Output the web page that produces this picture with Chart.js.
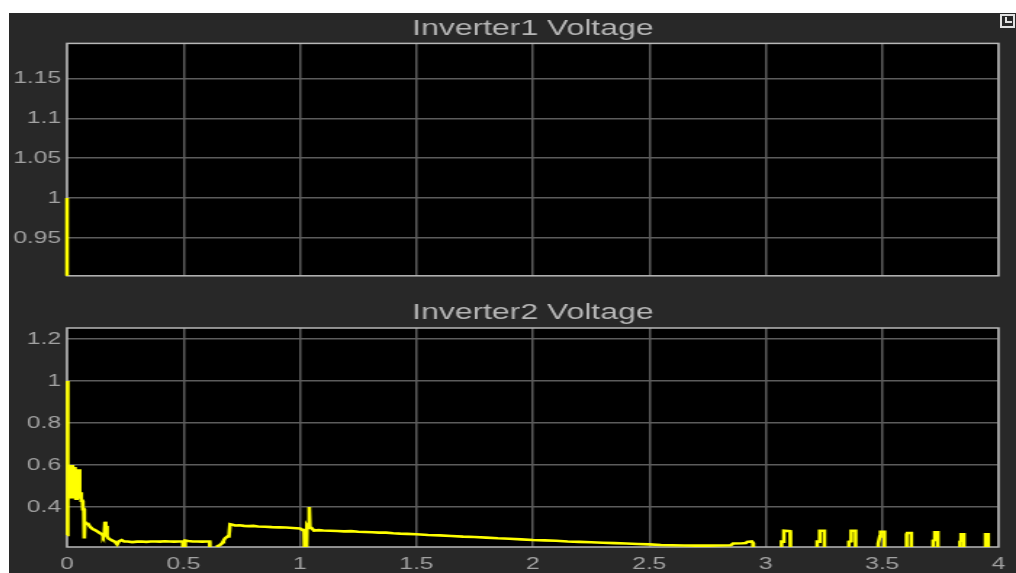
<!DOCTYPE html>
<html>
<head>
<meta charset="utf-8">
<script src="https://cdn.jsdelivr.net/npm/chart.js@4.4.1/dist/chart.umd.min.js"></script>
<style>
  body { margin: 0; background: #fff; }
  #wrap { position: absolute; left: 9px; top: 13px; width: 1007px; height: 560px; background: #282828; }
  canvas { position: absolute; left: 0; }
  #icon { position: absolute; left: 991px; top: 1px; width: 11px; height: 10px; border: 2px solid #e2e2e2; }
  #icon i { position: absolute; right: 1px; top: 1px; width: 5px; height: 4px; border-left: 2px solid #e2e2e2; border-bottom: 2px solid #e2e2e2; }
</style>
</head>
<body>
<div id="wrap">
  <canvas id="c1" width="694" height="277" style="top:0;width:1007px;height:277px"></canvas>
  <canvas id="c2" width="694" height="283" style="top:277px;width:1007px;height:283px"></canvas>
  <div id="icon"><i></i></div>
</div>
<script>
// tick values
const xTicks = [0, 0.5, 1, 1.5, 2, 2.5, 3, 3.5, 4];
const y1Ticks = [0.95, 1, 1.05, 1.1, 1.15];
const y2Ticks = [0.4, 0.6, 0.8, 1, 1.2];

// Inverter1: only the step at t=0 is inside the visible range
const t1 = [0, 0, 4];
const v1 = [1.0, 0.8, 0.8];

// Inverter2 voltage trace (time in s)
const t2 = [
  0, 0, 0.003, 0.006, 0.009, 0.012, 0.014, 0.018, 0.021, 0.024, 0.027, 0.031, 0.034, 0.038, 0.042, 0.046,
  0.050, 0.054, 0.058, 0.061, 0.066, 0.068, 0.072, 0.074, 0.076, 0.082, 0.09, 0.096, 0.104, 0.11, 0.12,
  0.128, 0.135, 0.142, 0.150, 0.155, 0.160, 0.163, 0.166, 0.169, 0.172, 0.178, 0.186, 0.195, 0.205,
  0.215, 0.222, 0.235, 0.245, 0.26, 0.28, 0.30, 0.32, 0.34, 0.36, 0.38, 0.40, 0.42, 0.44, 0.46, 0.48,
  0.497, 0.498, 0.505, 0.507, 0.52, 0.54, 0.56, 0.58, 0.60, 0.612, 0.613, 0.643, 0.646, 0.655, 0.664,
  0.668, 0.672, 0.678, 0.69, 0.695, 0.70, 0.71, 0.72, 0.74, 0.76, 0.78, 0.80, 0.82, 0.85, 0.88, 0.91,
  0.94, 0.97, 1.00, 1.012, 1.018, 1.02, 1.028, 1.03, 1.036, 1.04, 1.043, 1.05, 1.06, 1.08, 1.10, 1.13,
  1.16, 1.19, 1.22, 1.25, 1.28, 1.31, 1.34, 1.37, 1.40, 1.43, 1.46, 1.50, 1.55, 1.60, 1.65, 1.70, 1.75,
  1.80, 1.85, 1.90, 1.95, 2.00, 2.05, 2.10, 2.15, 2.20, 2.25, 2.30, 2.35, 2.40, 2.45, 2.50, 2.55, 2.60,
  2.65, 2.70, 2.75, 2.80, 2.85, 2.86, 2.90, 2.915, 2.92, 2.94, 2.945, 2.947,
  3.068, 3.068, 3.078, 3.078, 3.105, 3.106,
  3.221, 3.221, 3.232, 3.232, 3.252, 3.252,
  3.357, 3.357, 3.367, 3.367, 3.386, 3.386,
  3.483, 3.483, 3.49, 3.493, 3.51, 3.51,
  3.605, 3.605, 3.608, 3.625, 3.625,
  3.719, 3.719, 3.726, 3.726, 3.739, 3.739,
  3.834, 3.834, 3.839, 3.839, 3.851, 3.851,
  3.944, 3.944, 3.955, 3.955, 4.0
];
const v2 = [
  0.267, 1.0, 0.47, 0.43, 0.49, 0.44, 0.60, 0.45, 0.60, 0.44, 0.59, 0.45, 0.59, 0.44, 0.58, 0.44,
  0.58, 0.44, 0.47, 0.43, 0.43, 0.39, 0.39, 0.25, 0.33, 0.32, 0.32, 0.31, 0.30, 0.295, 0.29,
  0.285, 0.28, 0.275, 0.27, 0.26, 0.27, 0.33, 0.29, 0.31, 0.26, 0.25, 0.245, 0.24, 0.235,
  0.222, 0.236, 0.242, 0.236, 0.236, 0.233, 0.235, 0.236, 0.234, 0.236, 0.236, 0.235, 0.237, 0.236, 0.235, 0.236,
  0.236, 0.19, 0.19, 0.24, 0.238, 0.236, 0.236, 0.235, 0.236, 0.236, 0.18, 0.18, 0.213, 0.218, 0.225,
  0.232, 0.24, 0.25, 0.26, 0.26, 0.318, 0.316, 0.312, 0.313, 0.31, 0.309, 0.31, 0.307, 0.306, 0.304, 0.303,
  0.302, 0.300, 0.298, 0.29, 0.29, 0.18, 0.18, 0.31, 0.30, 0.40, 0.30, 0.30, 0.288, 0.29, 0.288, 0.287,
  0.286, 0.284, 0.285, 0.282, 0.281, 0.28, 0.278, 0.278, 0.275, 0.273, 0.272, 0.27, 0.267, 0.265, 0.262, 0.259, 0.257,
  0.254, 0.251, 0.249, 0.246, 0.243, 0.241, 0.239, 0.236, 0.234, 0.232, 0.230, 0.228, 0.226, 0.224, 0.222, 0.219, 0.218,
  0.217, 0.216, 0.216, 0.217, 0.218, 0.226, 0.227, 0.228, 0.234, 0.236, 0.23, 0.18,
  0.18, 0.235, 0.235, 0.287, 0.285, 0.18,
  0.18, 0.235, 0.235, 0.287, 0.287, 0.18,
  0.18, 0.235, 0.237, 0.287, 0.287, 0.18,
  0.18, 0.226, 0.26, 0.282, 0.282, 0.18,
  0.18, 0.27, 0.276, 0.276, 0.18,
  0.18, 0.24, 0.242, 0.28, 0.28, 0.18,
  0.18, 0.235, 0.24, 0.27, 0.27, 0.18,
  0.18, 0.27, 0.27, 0.18, 0.18
];

const GRID = '#5c5c5c';
const BOX = '#b8b8b8';
const TICK = '#a2a2a2';
const TITLE = '#b6b6b6';
const FONT = '"Liberation Sans", Arial, sans-serif';

// black plot area + full axes box, like the scope window
const scopeBox = {
  id: 'scopeBox',
  beforeDraw(chart) {
    const a = chart.chartArea;
    chart.ctx.save();
    chart.ctx.fillStyle = '#000';
    chart.ctx.fillRect(a.left, a.top, a.right - a.left, a.bottom - a.top);
    chart.ctx.restore();
  },
  beforeDatasetsDraw(chart) {
    const a = chart.chartArea;
    const ctx = chart.ctx;
    ctx.save();
    ctx.strokeStyle = BOX;
    ctx.lineWidth = 1.5;
    ctx.strokeRect(a.left, a.top, a.right - a.left, a.bottom - a.top);
    ctx.restore();
  }
};

function makeScope(id, title, ts, vs, yTicks, yMin, yMax, showX, titlePad, padBottom, xHeight) {
  const pts = ts.map((t, i) => ({ x: t, y: vs[i] }));
  return new Chart(document.getElementById(id), {
    type: 'line',
    data: {
      datasets: [{
        data: pts,
        borderColor: '#ffff00',
        borderWidth: 2.6,
        pointRadius: 0,
        tension: 0,
        clip: { left: 3, right: 0, top: 0, bottom: 0 }
      }]
    },
    options: {
      responsive: false,
      animation: false,
      layout: { padding: { left: 0, right: 12, top: 0, bottom: padBottom } },
      plugins: {
        legend: { display: false },
        tooltip: { enabled: false },
        title: {
          display: true,
          fullSize: false,
          text: title,
          color: TITLE,
          font: { family: FONT, size: 22, weight: 'normal' },
          padding: titlePad
        }
      },
      scales: {
        x: {
          type: 'linear',
          min: 0,
          max: 4,
          afterBuildTicks: s => { s.ticks = xTicks.map(v => ({ value: v })); },
          afterFit: s => { s.height = xHeight; },
          grid: { color: GRID, lineWidth: 1.5, drawTicks: false },
          border: { display: false },
          ticks: {
            display: showX,
            color: TICK,
            padding: 7,
            maxRotation: 0,
            font: { family: FONT, size: 17 },
            callback: v => String(v)
          }
        },
        y: {
          min: yMin,
          max: yMax,
          afterBuildTicks: s => { s.ticks = yTicks.map(v => ({ value: v })); },
          afterFit: s => { s.width = 40; },
          grid: { color: GRID, lineWidth: 1.6, drawTicks: false },
          border: { display: false },
          ticks: {
            color: TICK,
            padding: 4,
            font: { family: FONT, size: 17 },
            callback: v => String(v)
          }
        }
      }
    },
    plugins: [scopeBox]
  });
}

makeScope('c1', 'Inverter1 Voltage', t1, v1, y1Ticks, 0.9025, 1.194, false, { top: 3, bottom: 1 }, 14, 0);
makeScope('c2', 'Inverter2 Voltage', t2, v2, y2Ticks, 0.2095, 1.2524, true, { top: 10, bottom: 1.6 }, 2, 24);
</script>
</body>
</html>
